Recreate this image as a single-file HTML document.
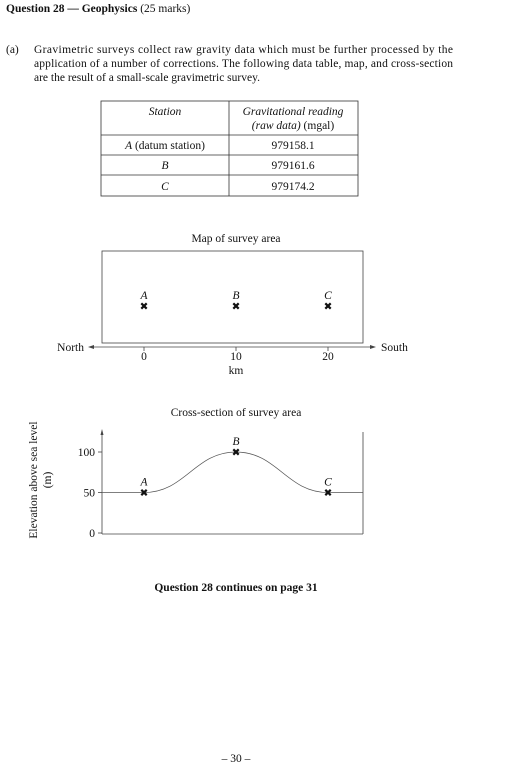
<!DOCTYPE html>
<html><head><meta charset="utf-8"><style>
body{margin:0;background:#fff;}
svg{display:block;font-family:"Liberation Serif",serif;fill:#111;}
text{font-size:11.5px;}
</style></head><body>
<svg width="530" height="774" viewBox="0 0 530 774">
<text x="6" y="12" font-weight="bold">Question 28 — Geophysics <tspan font-weight="normal">(25 marks)</tspan></text>
<text x="6" y="53">(a)</text>
<g>
<text x="34" y="53" textLength="419" lengthAdjust="spacing">Gravimetric surveys collect raw gravity data which must be further processed by the</text>
<text x="34" y="67" textLength="419" lengthAdjust="spacing">application of a number of corrections. The following data table, map, and cross-section</text>
<text x="34" y="81">are the result of a small-scale gravimetric survey.</text>
</g>
<g stroke="#333" stroke-width="0.8" fill="none">
<rect x="101" y="101" width="257" height="95"/>
<line x1="229" y1="101" x2="229" y2="196"/>
<line x1="101" y1="135" x2="358" y2="135"/>
<line x1="101" y1="155" x2="358" y2="155"/>
<line x1="101" y1="175" x2="358" y2="175"/>
</g>
<g text-anchor="middle">
<text x="165" y="115" font-style="italic">Station</text>
<text x="293" y="115" font-style="italic">Gravitational reading</text>
<text x="293" y="129"><tspan font-style="italic">(raw data)</tspan> (mgal)</text>
<text x="165" y="149"><tspan font-style="italic">A</tspan> (datum station)</text>
<text x="293" y="149">979158.1</text>
<text x="165" y="169" font-style="italic">B</text>
<text x="293" y="169">979161.6</text>
<text x="165" y="190" font-style="italic">C</text>
<text x="293" y="190">979174.2</text>
</g>
<text x="236" y="242" text-anchor="middle">Map of survey area</text>
<rect x="102" y="251" width="261" height="92" fill="none" stroke="#444" stroke-width="0.8"/>
<g id="map"></g>
<text x="236" y="416" text-anchor="middle">Cross-section of survey area</text>
<g id="xs"></g>
<text transform="translate(37,480) rotate(-90)" text-anchor="middle">Elevation above sea level</text>
<text transform="translate(51,480) rotate(-90)" text-anchor="middle">(m)</text>
<text x="236" y="591" text-anchor="middle" font-weight="bold">Question 28 continues on page 31</text>
<text x="236" y="762" text-anchor="middle">– 30 –</text>
</svg>
<script>
const stations=['A','B','C'];
const distances=[0,10,20];
const elevations=[50,100,50];
const kmTicks=[0,10,20];
const elevTicks=[0,50,100];
const NS='http://www.w3.org/2000/svg';
const xKm=d=>144+d*9.2;
const yEl=e=>533-e*0.81;
function mk(p,tag,attrs,txt){const e=document.createElementNS(NS,tag);for(const k in attrs)e.setAttribute(k,attrs[k]);if(txt!=null)e.textContent=txt;p.appendChild(e);return e;}
function cross(p,x,y){const g=mk(p,'g',{stroke:'#111','stroke-width':'2.2'});mk(g,'line',{x1:x-2.7,y1:y-2.7,x2:x+2.7,y2:y+2.7});mk(g,'line',{x1:x-2.7,y1:y+2.7,x2:x+2.7,y2:y-2.7});return g;}
const map=document.getElementById('map');
const ax=mk(map,'line',{x1:92,y1:347,x2:372,y2:347,stroke:'#444','stroke-width':'0.8'});


mk(map,'path',{d:'M88,347 L94,345 L94,349Z',fill:'#444'});
mk(map,'path',{d:'M376,347 L370,345 L370,349Z',fill:'#444'});
const n=mk(map,'text',{x:84,y:351,'text-anchor':'end'},'North');


const s=mk(map,'text',{x:381,y:351},'South');


kmTicks.forEach(t=>{mk(map,'line',{x1:xKm(t),y1:347,x2:xKm(t),y2:351,stroke:'#444','stroke-width':'0.8'});
const l=mk(map,'text',{x:xKm(t),y:360,'text-anchor':'middle'},t);

});
const km=mk(map,'text',{x:236,y:374,'text-anchor':'middle'},'km');


stations.forEach((st,i)=>{const g=cross(map,xKm(distances[i]),306);


mk(map,'text',{x:xKm(distances[i]),y:299,'text-anchor':'middle','font-style':'italic'},st);});
const xs=document.getElementById('xs');
mk(xs,'line',{x1:102,y1:534,x2:102,y2:433,stroke:'#444','stroke-width':'0.8'});
mk(xs,'path',{d:'M102,429 L100.5,435 L103.5,435Z',fill:'#444'});
mk(xs,'line',{x1:102,y1:534,x2:363,y2:534,stroke:'#444','stroke-width':'0.8'});
mk(xs,'line',{x1:363,y1:432,x2:363,y2:534,stroke:'#444','stroke-width':'0.8'});
elevTicks.forEach(t=>{mk(xs,'line',{x1:98,y1:yEl(t),x2:102,y2:yEl(t),stroke:'#444','stroke-width':'0.8'});
const l=mk(xs,'text',{x:95,y:yEl(t)+4,'text-anchor':'end'},t);

});
const xa=xKm(distances[0]),xb=xKm(distances[1]),xc=xKm(distances[2]);
const ya=yEl(elevations[0]),yb=yEl(elevations[1]),yc=yEl(elevations[2]);
const k1=(xb-xa)*0.45,k2=(xc-xb)*0.45;
const d=`M102,${ya} L${xa},${ya} C${xa+k1},${ya} ${xb-k1},${yb} ${xb},${yb} C${xb+k2},${yb} ${xc-k2},${yc} ${xc},${yc} L363,${yc}`;
const prof=mk(xs,'path',{d:d,fill:'none',stroke:'#555','stroke-width':'0.8'});


stations.forEach((st,i)=>{const x=xKm(distances[i]),y=yEl(elevations[i]);const g=cross(xs,x,y);


mk(xs,'text',{x:x,y:y-7,'text-anchor':'middle','font-style':'italic'},st);});
</script>
</body></html>
